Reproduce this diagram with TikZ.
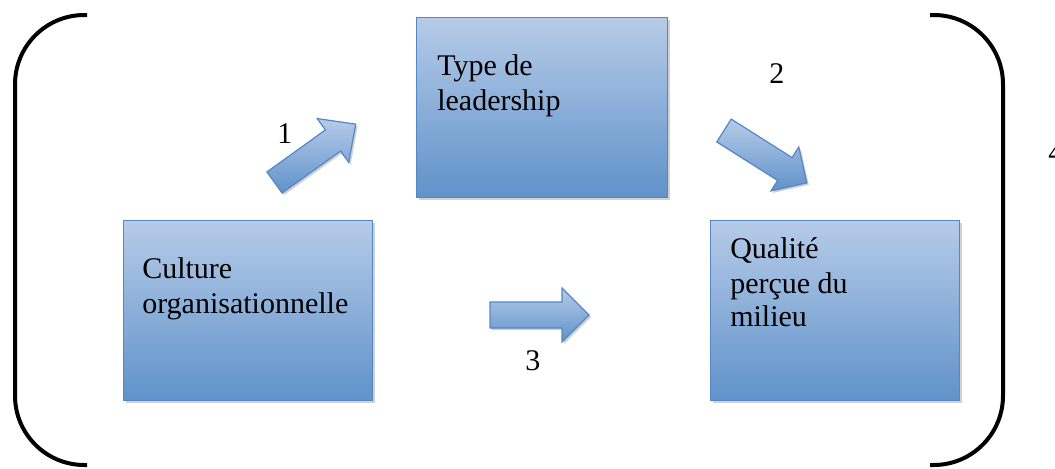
\documentclass[tikz,border=0pt]{standalone}
\usepackage{fontspec}
\setmainfont{Liberation Serif}
\usetikzlibrary{shadows}
\definecolor{boxtop}{RGB}{182,203,232}
\definecolor{boxbot}{RGB}{96,146,202}
\definecolor{boxline}{RGB}{84,135,196}
\tikzset{
  box/.style={draw=boxline, line width=0.9pt, top color=boxtop, bottom color=boxbot,
    anchor=north west, inner sep=0pt, minimum height=135pt,
    drop shadow={shadow xshift=1.5pt, shadow yshift=-1.5pt, opacity=0.18, fill=black}},
  lbl/.style={anchor=base west, inner sep=0pt, font=\fontsize{22.5}{26}\selectfont},
  blockarrow/.style={draw=boxline, line width=0.9pt, top color=boxtop, bottom color=boxbot,
    drop shadow={shadow xshift=1.5pt, shadow yshift=-1.5pt, opacity=0.18, fill=black}},
  bracket/.style={draw=black, line width=3pt, rounded corners=52pt}
}
\begin{document}
\begin{tikzpicture}[x=0.75pt, y=-0.75pt]
\useasboundingbox (0,0) rectangle (1055,468);
% brackets
\draw[bracket] (87,15) -- (15,15) -- (15,465) -- (87,465);
\draw[bracket] (930,15) -- (1003,15) -- (1003,465) -- (930,465);
% boxes
\node[box, minimum width=188.25pt] (lead) at (416,17) {};
\node[box, minimum width=186.75pt] (cult) at (123,220) {};
\node[box, minimum width=186.75pt] (qual) at (710,220) {};
% box texts
\node[lbl] (lead1) at (437,75) {Type de};
\node[lbl] (lead2) at (437,110) {leadership};
\node[lbl] (cult1) at (142,278) {Culture};
\node[lbl] (cult2) at (142,313) {organisationnelle};
\node[lbl] (qual1) at (730,258) {Qualité};
\node[lbl] (qual2) at (730,293) {perçue du};
\node[lbl] (qual3) at (730,326) {milieu};
% block arrows
\begin{scope}[shift={(274.5,182.5)}, rotate=35.7]
\path[blockarrow] (0,13) -- (72,13) -- (72,27) -- (100,0) -- (72,-27) -- (72,-13) -- (0,-13) -- cycle;
\end{scope}
\begin{scope}[shift={(724,130.5)}, rotate=-32.3]
\path[blockarrow] (0,13.5) -- (72,13.5) -- (72,26) -- (98,0) -- (72,-26) -- (72,-13.5) -- (0,-13.5) -- cycle;
\end{scope}
\begin{scope}[shift={(490,315)}]
\path[blockarrow] (0,13) -- (72,13) -- (72,27) -- (99,0) -- (72,-27) -- (72,-13) -- (0,-13) -- cycle;
\end{scope}
% number labels
\node[lbl] (n1) at (277,143) {1};
\node[lbl] (n2) at (769,83) {2};
\node[lbl] (n3) at (525,370) {3};
\node[lbl] (n4) at (1048,162) {4};
\end{tikzpicture}
\end{document}
